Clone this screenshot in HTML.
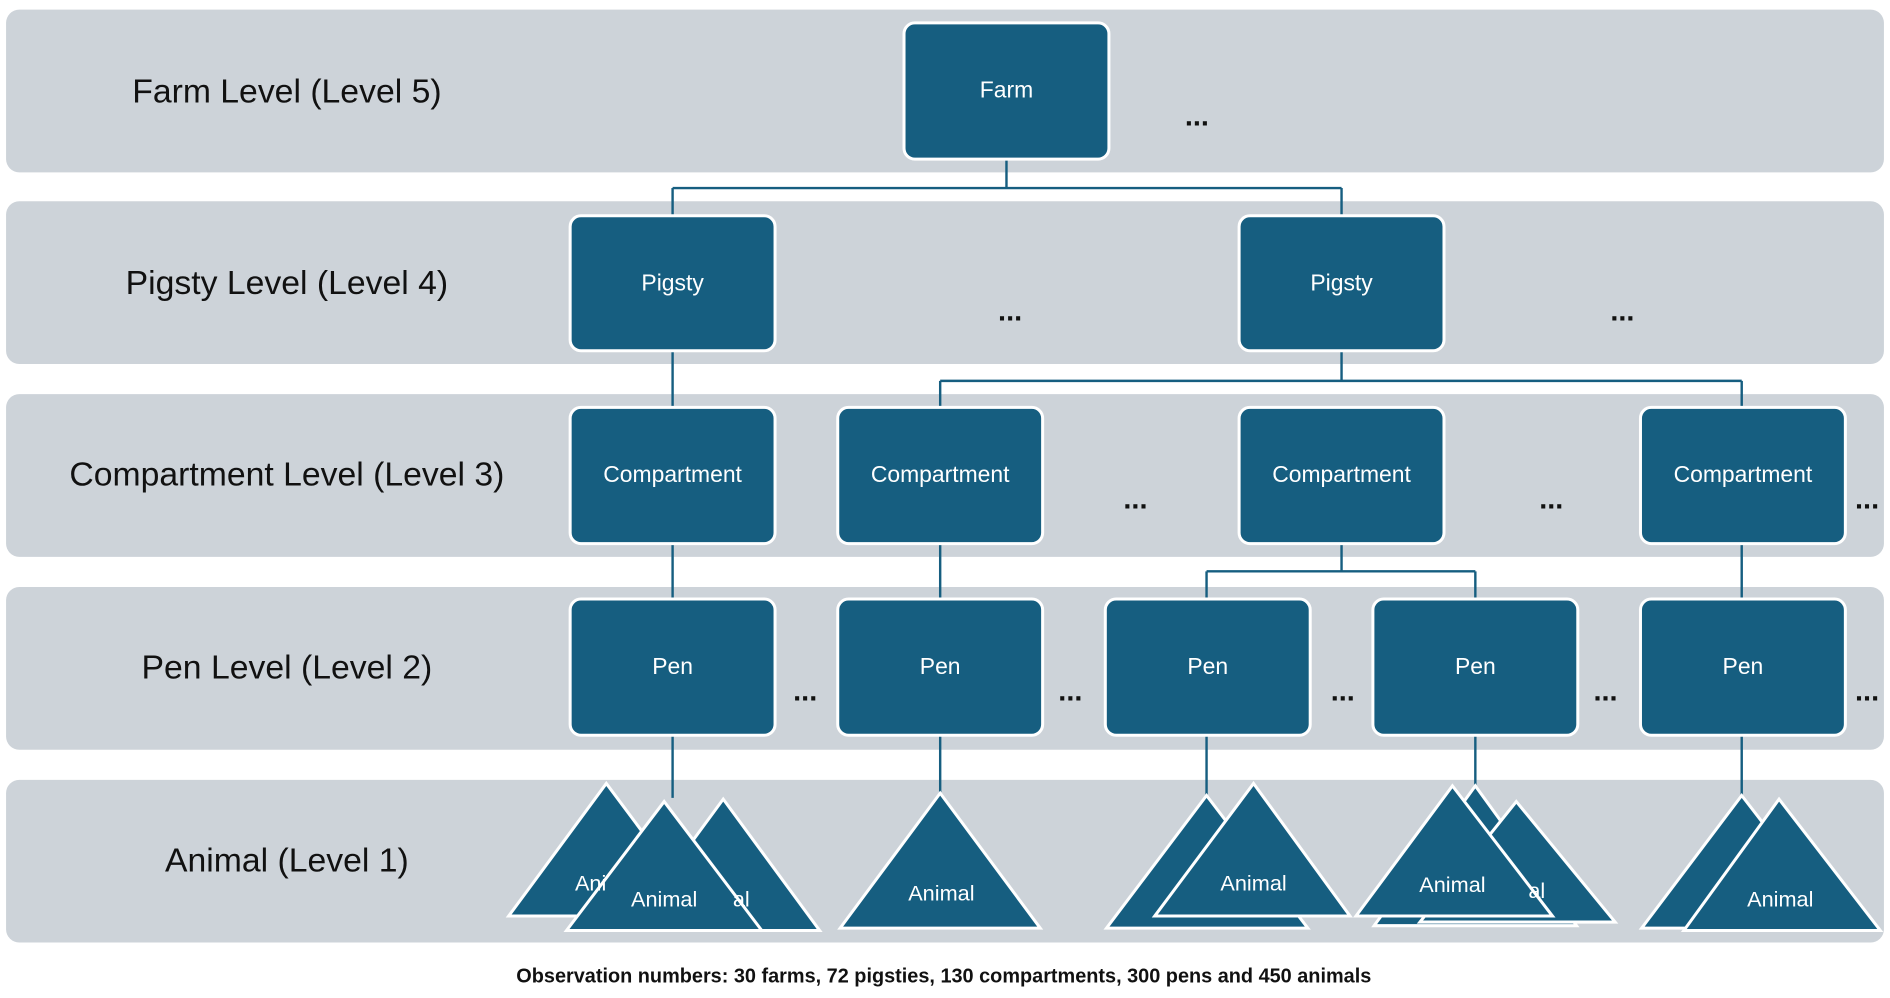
<!DOCTYPE html>
<html><head><meta charset="utf-8"><style>html,body{margin:0;padding:0;background:#fff}svg{display:block}</style></head><body>
<svg width="1890" height="998" viewBox="0 0 1568 828" xmlns="http://www.w3.org/2000/svg" font-family="Liberation Sans, sans-serif">
<g fill="#cdd3d9">
<rect x="5" y="8" width="1558" height="135" rx="11"/>
<rect x="5" y="167" width="1558" height="135" rx="11"/>
<rect x="5" y="327" width="1558" height="135" rx="11"/>
<rect x="5" y="487" width="1558" height="135" rx="11"/>
<rect x="5" y="647" width="1558" height="135" rx="11"/>
</g>
<g font-size="28" fill="#111" text-anchor="middle">
<text x="238" y="85">Farm Level (Level 5)</text>
<text x="238" y="244">Pigsty Level (Level 4)</text>
<text x="238" y="403">Compartment Level (Level 3)</text>
<text x="238" y="563">Pen Level (Level 2)</text>
<text x="238" y="723">Animal (Level 1)</text>
</g>
<g stroke="#165e80" stroke-width="2" fill="none">
<path d="M835 132V156M558 156H1113M558 156V179M1113 156V179"/>
<path d="M558 291V338M1113 291V316M780 316H1445M780 316V338M1445 316V338"/>
<path d="M558 451V497M780 451V497M1113 451V474M1001 474H1224M1001 474V497M1224 474V497M1445 451V497"/>
<path d="M558 610V662M780 610V658M1001 610V660M1224 610V652M1445 610V660"/>
</g>
<g fill="#165e80" stroke="#fff" stroke-width="2.5">
<rect x="750" y="19" width="170" height="113" rx="9"/>
<rect x="473" y="179" width="170" height="112" rx="9"/>
<rect x="1028" y="179" width="170" height="112" rx="9"/>
<rect x="473" y="338" width="170" height="113" rx="9"/>
<rect x="695" y="338" width="170" height="113" rx="9"/>
<rect x="1028" y="338" width="170" height="113" rx="9"/>
<rect x="1361" y="338" width="170" height="113" rx="9"/>
<rect x="473" y="497" width="170" height="113" rx="9"/>
<rect x="695" y="497" width="170" height="113" rx="9"/>
<rect x="917" y="497" width="170" height="113" rx="9"/>
<rect x="1139" y="497" width="170" height="113" rx="9"/>
<rect x="1361" y="497" width="170" height="113" rx="9"/>
</g>
<g fill="#fff" text-anchor="middle" font-size="19">
<text x="835" y="81">Farm</text>
<text x="558" y="241">Pigsty</text>
<text x="1113" y="241">Pigsty</text>
<text x="558" y="400">Compartment</text>
<text x="780" y="400">Compartment</text>
<text x="1113" y="400">Compartment</text>
<text x="1446" y="400">Compartment</text>
<text x="558" y="559">Pen</text>
<text x="780" y="559">Pen</text>
<text x="1002" y="559">Pen</text>
<text x="1224" y="559">Pen</text>
<text x="1446" y="559">Pen</text>
</g>
<g fill="#165e80" stroke="#fff" stroke-width="2.5">
<polygon points="503,650 585,760 422,760"/>
<polygon points="600,663 680,772 520,772"/>
<polygon points="551,665 632,772 470,772"/>
<polygon points="780,658 863,770 697,770"/>
<polygon points="1001,660 1085,770 918,770"/>
<polygon points="1040,650 1120,760 958,760"/>
<polygon points="1224,652 1308,768 1140,768"/>
<polygon points="1258,665 1340,765 1178,765"/>
<polygon points="1205,652 1288,760 1125,760"/>
<polygon points="1445,660 1530,770 1362,770"/>
<polygon points="1476,663 1560,772 1397,772"/>
</g>
<g fill="#fff" text-anchor="middle" font-size="18">
<text x="490" y="739">Ani</text>
<text x="615" y="752">al</text>
<text x="551" y="752">Animal</text>
<text x="781" y="747">Animal</text>
<text x="1040" y="739">Animal</text>
<text x="1275" y="745">al</text>
<text x="1205" y="740">Animal</text>
<text x="1477" y="752">Animal</text>
</g>
<g font-size="24" font-weight="bold" fill="#111" text-anchor="middle">
<text x="993" y="104">...</text>
<text x="838" y="266">...</text>
<text x="1346" y="266">...</text>
<text x="942" y="422">...</text>
<text x="1287" y="422">...</text>
<text x="1549" y="422">...</text>
<text x="668" y="581">...</text>
<text x="888" y="581">...</text>
<text x="1114" y="581">...</text>
<text x="1332" y="581">...</text>
<text x="1549" y="581">...</text>
</g>
<text x="783" y="815" font-size="16.5" font-weight="bold" fill="#111" text-anchor="middle">Observation numbers: 30 farms, 72 pigsties, 130 compartments, 300  pens and  450 animals</text>
</svg>
</body></html>
